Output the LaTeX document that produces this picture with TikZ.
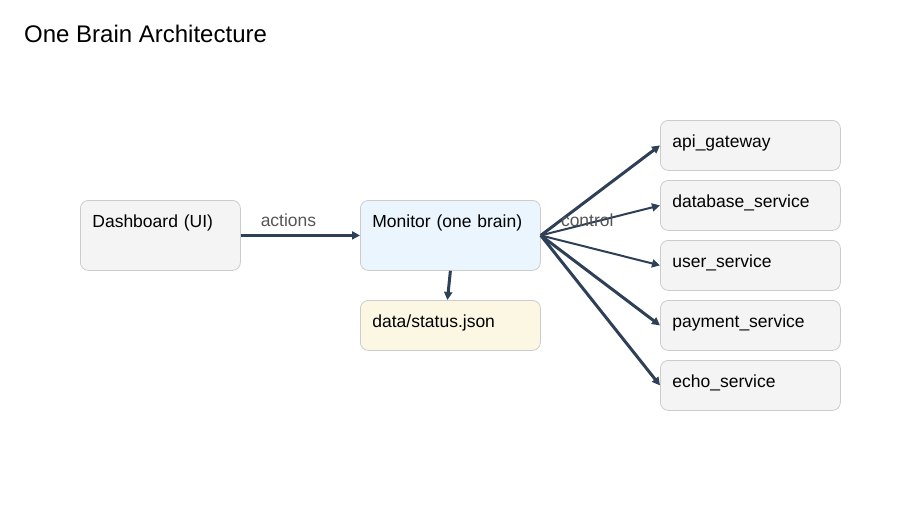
\documentclass[tikz,border=0pt]{standalone}
\usepackage{fontspec}
\setmainfont{Liberation Sans}
\usetikzlibrary{arrows.meta}

\definecolor{navy}{HTML}{2E4057}
\definecolor{boxgray}{HTML}{F4F4F4}
\definecolor{boxline}{HTML}{CCCCCC}
\definecolor{monblue}{HTML}{EAF5FD}
\definecolor{statyellow}{HTML}{FBF7E3}
\definecolor{labgray}{HTML}{555555}

\begin{document}
\begin{tikzpicture}[
    x=1pt, y=-1pt,
    font=\fontsize{17.5}{20}\selectfont,
    linet/.style={line width=3pt, draw=navy,
      -{Triangle[length=8pt,width=8pt]}},
    thinlinet/.style={linet, line width=2pt},
    punkt/.style={rectangle, rounded corners=8pt, fill=boxgray,
      draw=boxline, line width=0.8pt, anchor=north west,
      inner xsep=12pt, inner ysep=12pt, text height=15pt,
      text depth=31pt, align=left},
    small/.style={punkt, text depth=11pt},
    etik/.style={text=labgray, inner sep=0pt}
  ]
  \useasboundingbox (0,0) rectangle (900,520);
  \path (24,34) node(title) [anchor=west, inner sep=0pt,
    font=\fontsize{24}{28}\selectfont] {One Brain Architecture};

  \path (80,200) node(dash) [punkt, text width=136pt] {Dashboard (UI)}
  (360,200) node(mon) [punkt, fill=monblue, text width=156pt] {Monitor (one brain)}
  (360,300) node(stat) [small, fill=statyellow, text width=156pt] {data/status.json};

  % services
  \path (660,120) node(api) [small, text width=156pt] {api\_gateway}
  (660,180) node(db) [small, text width=156pt] {database\_service}
  (660,240) node(usr) [small, text width=156pt] {user\_service}
  (660,300) node(pay) [small, text width=156pt] {payment\_service}
  (660,360) node(echo) [small, text width=156pt] {echo\_service};

  \draw[linet] (dash) -- node[etik, above=7pt, pos=0.4] {actions} (mon);
  \draw[linet] (mon.south) -- ([xshift=-3pt]stat.north);
  \draw[linet] (mon.east) -- (api.west);
  \draw[thinlinet] (mon.east) -- (db.west);
  \draw[thinlinet] (mon.east) -- (usr.west);
  \draw[linet] (mon.east) -- (pay.west);
  \draw[linet] (mon.east) -- (echo.west);
  \path (mon.east) ++(20,-15) node(ctl) [etik, anchor=west] {control};
\end{tikzpicture}
\end{document}
